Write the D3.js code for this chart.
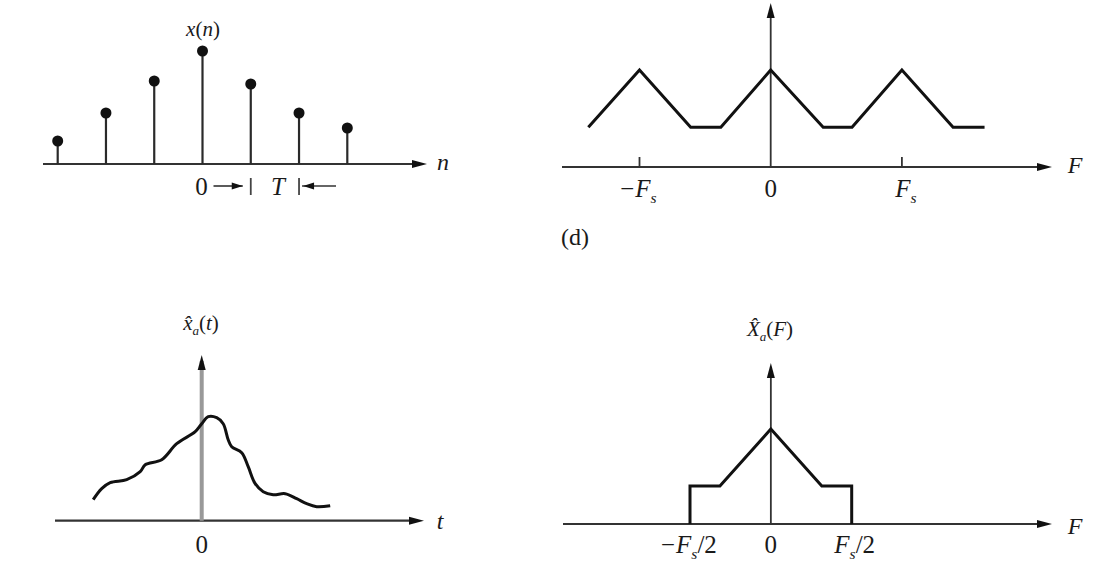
<!DOCTYPE html>
<html>
<head>
<meta charset="utf-8">
<script src="https://cdn.jsdelivr.net/npm/d3@7"></script>
<style>
  html, body { margin: 0; padding: 0; background: #fff; }
  svg { display: block; }
  text { font-family: "Liberation Serif", "DejaVu Serif", serif; fill: #1a1a1a; }
</style>
</head>
<body>
<svg id="chart" width="1102" height="587"></svg>
<script>
// ---------- data ----------
// (a) sampled sequence x(n)
const stemN = [-3, -2, -1, 0, 1, 2, 3];
const stemVals = [0.23, 0.51, 0.83, 1.13, 0.80, 0.51, 0.36];

// (d) periodic spectrum, F in units of Fs
const specF = [-1.39, -1, -0.61, -0.38, 0, 0.40, 0.62, 1, 1.39, 1.63];
const specVals = [0.41, 1, 0.41, 0.41, 1, 0.41, 0.41, 1, 0.41, 0.41];
const specTicks = [-1, 0, 1];
const specTickLabels = [["−F", "s"], ["0", ""], ["F", "s"]];

// reconstructed signal x̂a(t)
const tVals = [-2.17, -2.00, -1.83, -1.50, -1.23, -1.13, -0.80, -0.50, -0.13, 0.00, 0.13, 0.30, 0.43,
               0.53, 0.60, 0.80, 0.93, 1.07, 1.23, 1.43, 1.67, 1.90, 2.10, 2.30, 2.57];
const xaVals = [0.21, 0.32, 0.38, 0.41, 0.49, 0.56, 0.61, 0.77, 0.89, 0.97, 1.04, 1.03, 0.97,
                0.81, 0.74, 0.68, 0.54, 0.37, 0.29, 0.26, 0.27, 0.22, 0.17, 0.14, 0.15];

// reconstructed spectrum X̂a(F), F in units of Fs/2
const recF = [-1, -1, -0.63, 0, 0.63, 1, 1];
const recVals = [0, 0.4, 0.4, 1, 0.4, 0.4, 0];
const recTicks = [-1, 0, 1];
const recTickLabels = [["−F", "s", "/2"], ["0", "", ""], ["F", "s", "/2"]];

// ---------- drawing ----------
const svg = d3.select("#chart");
svg.append("rect").attr("width", 1102).attr("height", 587).attr("fill", "#fff");

const AX = "#333";
const TICK = 25, AXL = 24, YL = 21;
function arrowHead(x, y, dir) {
  const L = 15, W = 4;
  let p;
  if (dir === "right") p = [[x, y], [x - L, y - W], [x - L, y + W]];
  else if (dir === "left") p = [[x, y], [x + L, y - W], [x + L, y + W]];
  else p = [[x, y], [x - W, y + L], [x + W, y + L]];
  svg.append("path").attr("d", d3.line()(p) + "Z").attr("fill", "#111");
}
function hAxis(x0, x1, y, sw) {
  svg.append("line").attr("x1", x0).attr("x2", x1 - 6).attr("y1", y).attr("y2", y)
    .attr("stroke", AX).attr("stroke-width", sw || 2.2);
  arrowHead(x1, y, "right");
}
function vAxis(x, y0, y1, color, sw) {
  svg.append("line").attr("x1", x).attr("x2", x).attr("y1", y0).attr("y2", y1 + 6)
    .attr("stroke", color || AX).attr("stroke-width", sw || 1.8);
  arrowHead(x, y1, "up");
}
function label(x, y, parts, opts) {
  opts = opts || {};
  const size = opts.size || 20;
  const t = svg.append("text").attr("x", x).attr("y", y)
    .attr("text-anchor", opts.anchor || "middle")
    .attr("font-size", size);
  parts.forEach(([s, k]) => {
    if (!s) return;
    const ts = t.append("tspan").text(s);
    if (k === "i") ts.attr("font-style", "italic");
    if (k === "sub") ts.attr("font-style", "italic").attr("font-size", size * 0.62)
      .attr("dy", size * 0.25);
    if (k === "r_after_sub") ts.attr("dy", -size * 0.25);
  });
  return t;
}

// ===== Panel (a): x(n) =====
{
  const x = d3.scaleLinear().domain([-3, 3]).range([57.7, 347.3]);
  const y = d3.scaleLinear().domain([0, 1]).range([164, 64]);
  hAxis(43, 427, y(0));
  svg.selectAll(".stem").data(stemN).join("line").attr("class", "stem")
    .attr("x1", d => x(d)).attr("x2", d => x(d))
    .attr("y1", y(0)).attr("y2", (d, i) => y(stemVals[i]))
    .attr("stroke", "#2a2a2a").attr("stroke-width", 2.2);
  svg.selectAll(".dot").data(stemN).join("circle").attr("class", "dot")
    .attr("cx", d => x(d)).attr("cy", (d, i) => y(stemVals[i])).attr("r", 5.5)
    .attr("fill", "#111");
  label(203, 36, [["x", "i"], ["(", "r"], ["n", "i"], [")", "r"]], { size: YL });
  label(443, 170, [["n", "i"]], { size: AXL });
  // 0 and period T annotation
  label(x(0) - 1, 195, [["0", "r"]], { size: TICK });
  const yA = 186;
  const xb1 = x(1), xb2 = x(2);
  svg.append("line").attr("x1", xb1).attr("x2", xb1).attr("y1", 178).attr("y2", 195)
    .attr("stroke", "#444").attr("stroke-width", 1.8);
  svg.append("line").attr("x1", xb2).attr("x2", xb2).attr("y1", 178).attr("y2", 195)
    .attr("stroke", "#444").attr("stroke-width", 1.8);
  svg.append("line").attr("x1", x(0) + 11).attr("x2", xb1 - 8).attr("y1", yA).attr("y2", yA)
    .attr("stroke", "#333").attr("stroke-width", 1.6);
  svg.append("line").attr("x1", xb2 + 3).attr("x2", xb2 + 37).attr("y1", yA).attr("y2", yA)
    .attr("stroke", "#333").attr("stroke-width", 1.6);
  svg.append("path").attr("d", `M${xb1 - 8},${yA} l-11,-3.5 l0,7 Z`).attr("fill", "#111");
  svg.append("path").attr("d", `M${xb2 + 4},${yA} l11,-3.5 l0,7 Z`).attr("fill", "#111");
  label((xb1 + xb2) / 2 + 3, 195, [["T", "i"]], { size: TICK });
}

// ===== Panel (d): periodic spectrum =====
{
  const x = d3.scaleLinear().domain([-1, 1]).range([639.5, 901.9]);
  const y = d3.scaleLinear().domain([0, 1]).range([167, 70]);
  hAxis(562, 1052, y(0));
  vAxis(x(0), y(0), 3, AX, 1.8);
  svg.selectAll(".dtick").data(specTicks.filter(d => d !== 0)).join("line").attr("class", "dtick")
    .attr("x1", d => x(d)).attr("x2", d => x(d)).attr("y1", y(0)).attr("y2", y(0) - 10)
    .attr("stroke", AX).attr("stroke-width", 1.8);
  svg.append("path").datum(specF.map((f, i) => [x(f), y(specVals[i])]))
    .attr("d", d3.line()).attr("fill", "none").attr("stroke", "#111")
    .attr("stroke-width", 3).attr("stroke-linejoin", "miter");
  specTicks.forEach((d, i) => {
    const [a, s] = specTickLabels[i];
    if (s) label(x(d) + (d < 0 ? -2 : 4), 197, [[a, "i"], [s, "sub"]], { size: TICK });
    else label(x(d), 197, [[a, "r"]], { size: TICK });
  });
  label(1075, 173, [["F", "i"]], { size: AXL });
  label(561, 245, [["(d)", "r"]], { size: 24, anchor: "start" });
}

// ===== Panel: reconstructed signal =====
{
  const x = d3.scaleLinear().domain([0, 1]).range([201.7, 251.7]);
  const y = d3.scaleLinear().domain([0, 1]).range([520.7, 420.7]);
  hAxis(55, 424, y(0));
  vAxis(x(0), y(0), 355, "#999", 4);
  svg.append("path").datum(tVals.map((t, i) => [x(t), y(xaVals[i])]))
    .attr("d", d3.line().curve(d3.curveCatmullRom.alpha(0.5))).attr("fill", "none")
    .attr("stroke", "#111").attr("stroke-width", 3);
  label(201, 330, [["x\u0302", "i"], ["a", "sub"], ["(", "r_after_sub"], ["t", "i"], [")", "r"]], { size: YL });
  label(440, 529, [["t", "i"]], { size: AXL });
  label(x(0), 553, [["0", "r"]], { size: TICK });
}

// ===== Panel: reconstructed spectrum =====
{
  const x = d3.scaleLinear().domain([-1, 1]).range([690, 851.7]);
  const y = d3.scaleLinear().domain([0, 1]).range([524, 429]);
  hAxis(563, 1052, y(0));
  vAxis(x(0), y(0), 363, AX, 1.8);
  svg.append("path").datum(recF.map((f, i) => [x(f), y(recVals[i])]))
    .attr("d", d3.line()).attr("fill", "none").attr("stroke", "#111")
    .attr("stroke-width", 3).attr("stroke-linejoin", "miter");
  recTicks.forEach((d, i) => {
    const [a, s, r] = recTickLabels[i];
    if (s) label(x(d) + (d < 0 ? -2 : 3), 553, [[a, "i"], [s, "sub"], [r, "r_after_sub"]], { size: TICK });
    else label(x(d), 553, [[a, "r"]], { size: TICK });
  });
  label(770, 336, [["X\u0302", "i"], ["a", "sub"], ["(", "r_after_sub"], ["F", "i"], [")", "r"]], { size: YL });
  label(1075, 534, [["F", "i"]], { size: AXL });
}
</script>
</body>
</html>
